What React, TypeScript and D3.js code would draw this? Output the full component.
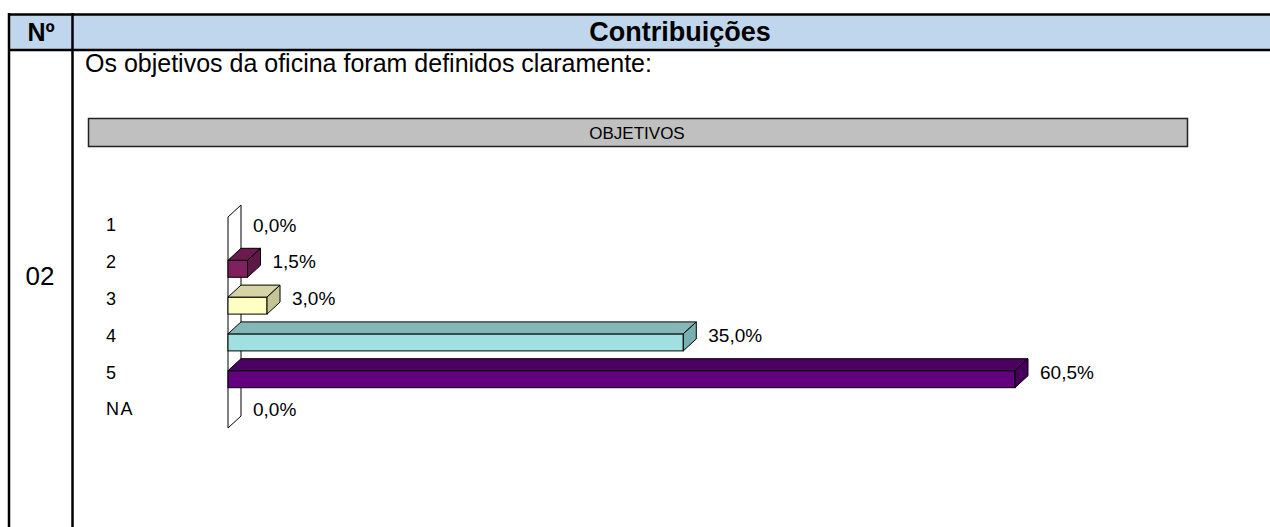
import React from "react";
import * as d3 from "d3";

const categories = ["1", "2", "3", "4", "5", "NA"];
const values = [0, 1.5, 3.0, 35.0, 60.5, 0];
const frontColors = ["#9999ff", "#80205f", "#ffffc4", "#a0e0e0", "#620080", "#ff8080"];
const topColors = ["#7a7acc", "#6a1a4f", "#d4d4a4", "#84b8b8", "#4c0060", "#cc6666"];
const sideColors = ["#6b6bb3", "#5e1746", "#c4c494", "#78b0b0", "#44005a", "#b35a5a"];

const W = 1270;
const H = 527;
const FONT = "Arial, 'Liberation Sans', sans-serif";

export default function App() {
  const x = d3.scaleLinear().domain([0, 60.5]).range([228, 1015]);
  const y = d3.scalePoint<string>().domain(categories).range([232, 416]);
  const barH = 17;
  const dx = 13;
  const dy = -12;
  const fmt = (v: number) => d3.format(".1f")(v).replace(".", ",") + "%";

  const x0 = x(0);
  const wallTop = (y(categories[0]) as number) - 15;
  const wallBot = (y(categories[categories.length - 1]) as number) + 12;

  return (
    <div style={{ position: "absolute", left: 0, top: 0 }}>
      <svg width={W} height={H} style={{ display: "block", fontFamily: FONT }}>
        <rect x={0} y={0} width={W} height={H} fill="#fff" />
        {/* table header */}
        <rect x={8} y={14} width={W} height={36} fill="#c0d6ed" />
        <line x1={8} y1={14.5} x2={W} y2={14.5} stroke="#000" strokeWidth={2.5} />
        <line x1={8} y1={50} x2={W} y2={50} stroke="#000" strokeWidth={2.5} />
        <line x1={9} y1={13} x2={9} y2={H} stroke="#000" strokeWidth={2.5} />
        <line x1={72.5} y1={13} x2={72.5} y2={H} stroke="#000" strokeWidth={2.5} />
        <text x={41} y={41} textAnchor="middle" fontSize={25} fontWeight="bold">Nº</text>
        <text x={680} y={41} textAnchor="middle" fontSize={27} fontWeight="bold">Contribuições</text>
        <text x={40} y={285} textAnchor="middle" fontSize={26}>02</text>
        <text x={85} y={72} fontSize={25}>Os objetivos da oficina foram definidos claramente:</text>

        {/* chart title box */}
        <rect x={88.5} y={118.5} width={1099} height={28} fill="#c0c0c0" stroke="#222" strokeWidth={1.5} />
        <text x={637} y={139} textAnchor="middle" fontSize={17}>OBJETIVOS</text>

        {/* back wall */}
        <path
          d={`M${x0},${wallBot} L${x0},${wallTop} L${x0 + dx},${wallTop + dy} L${x0 + dx},${wallBot + dy} Z`}
          fill="#fff"
          stroke="#000"
          strokeWidth={1}
        />

        {categories.map((c, i) => {
          const v = values[i];
          const yc = y(c) as number;
          const top = yc - barH / 2;
          const bot = yc + barH / 2;
          const x1 = x(v);
          const labelY = yc - 7;
          return (
            <g key={c}>
              <text x={106} y={labelY} dy="0.35em" fontSize={18} letterSpacing={c.length > 1 ? 1.5 : 0}>{c}</text>
              {v > 0 && (
                <g stroke="#000" strokeWidth={1}>
                  <rect x={x0} y={top} width={x1 - x0} height={barH} fill={frontColors[i]} />
                  <path
                    d={`M${x0},${top} L${x0 + dx},${top + dy} L${x1 + dx},${top + dy} L${x1},${top} Z`}
                    fill={topColors[i]}
                  />
                  <path
                    d={`M${x1},${top} L${x1 + dx},${top + dy} L${x1 + dx},${bot + dy} L${x1},${bot} Z`}
                    fill={sideColors[i]}
                  />
                </g>
              )}
              <text x={x1 + dx + 12} y={labelY} dy="0.35em" fontSize={19}>{fmt(v)}</text>
            </g>
          );
        })}
      </svg>
    </div>
  );
}
